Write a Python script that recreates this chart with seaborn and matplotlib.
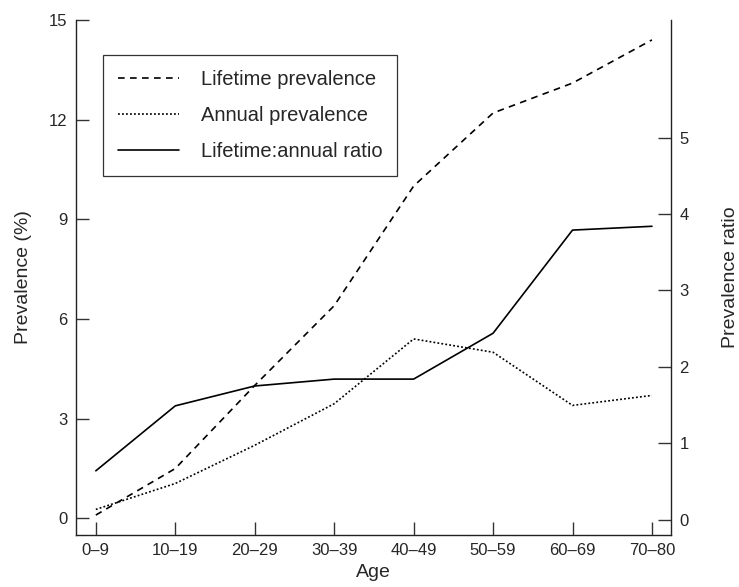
import matplotlib
matplotlib.use("Agg")
import matplotlib.pyplot as plt
import seaborn as sns
import pandas as pd
from matplotlib.lines import Line2D

ages = ["0–9", "10–19", "20–29", "30–39", "40–49", "50–59", "60–69", "70–80"]
lifetime = [0.1, 1.5, 4.0, 6.4, 10.0, 12.2, 13.1, 14.4]
annual = [0.27, 1.05, 2.2, 3.45, 5.4, 5.0, 3.4, 3.7]
ratio = [0.64, 1.49, 1.75, 1.84, 1.84, 2.44, 3.79, 3.84]

sns.set_style("ticks")
plt.rcParams['font.family'] = ['Liberation Sans', 'DejaVu Sans']

df = pd.DataFrame({"x": range(len(ages)), "lifetime": lifetime, "annual": annual, "ratio": ratio})

fig = plt.figure(figsize=(7.39, 5.87), dpi=100)
ax = fig.add_axes([0.1028, 0.0886, 0.8052, 0.8774])
ax2 = ax.twinx()

lw = 1.2
dash_l = [4, 3.2]
dash_a = [1.1, 1.3]
sns.lineplot(data=df, x="x", y="lifetime", ax=ax, color="black", lw=lw)
ax.lines[-1].set_dashes(dash_l)
sns.lineplot(data=df, x="x", y="annual", ax=ax, color="black", lw=lw)
ax.lines[-1].set_dashes(dash_a)
sns.lineplot(data=df, x="x", y="ratio", ax=ax2, color="black", lw=lw)

ax.set_xlim(-0.25, 7.24)
ax.set_ylim(-0.5, 15)
ax2.set_ylim(-0.2, 6.54)
ax.set_xticks(range(len(ages)))
ax.set_xticklabels(ages)
ax.set_yticks([0, 3, 6, 9, 12, 15])
ax2.set_yticks([0, 1, 2, 3, 4, 5])

for a in (ax, ax2):
    a.spines['top'].set_visible(False)
    for s in a.spines.values():
        s.set_linewidth(1.0)
        s.set_color("#222222")
ax.spines['right'].set_visible(False)
ax2.spines['left'].set_visible(False)
ax2.spines['bottom'].set_visible(False)

ax.tick_params(axis='both', direction='in', length=9.5, width=1.0, labelsize=12, color="#333333", pad=6)
ax2.tick_params(axis='y', direction='in', length=9.5, width=1.0, labelsize=12, color="#333333", pad=6)

ax.set_xlabel("Age", fontsize=14, labelpad=4)
ax.set_ylabel("Prevalence (%)", fontsize=14, labelpad=12)
ax2.set_ylabel("Prevalence ratio", fontsize=14, labelpad=24)

handles = [
    Line2D([], [], color="black", lw=lw, dashes=dash_l),
    Line2D([], [], color="black", lw=lw, dashes=dash_a),
    Line2D([], [], color="black", lw=lw),
]
labels = ["Lifetime prevalence", "Annual prevalence", "Lifetime:annual ratio"]
leg = ax.legend(handles, labels, loc="upper left", bbox_to_anchor=(0.0454, 0.932),
                frameon=True, fancybox=False, edgecolor="black", fontsize=14.5,
                handlelength=3.0, handletextpad=1.1, borderpad=0.75, labelspacing=0.85,
                borderaxespad=0)
leg.get_frame().set_linewidth(0.9)

fig.savefig("out.png", dpi=100)
